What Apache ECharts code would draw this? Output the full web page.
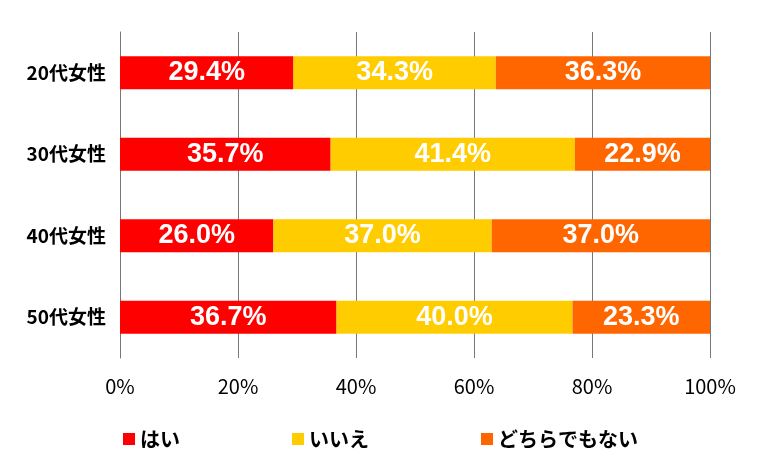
<!DOCTYPE html>
<html><head><meta charset="utf-8">
<script src="https://cdn.jsdelivr.net/npm/echarts@6/dist/echarts.min.js"></script>
<style>html,body{margin:0;background:#fff}#c{width:766px;height:468px}</style>
</head><body><div id="c"></div>
<script>
var categories = ['20代女性', '30代女性', '40代女性', '50代女性'];
var seriesNames = ['はい', 'いいえ', 'どちらでもない'];
var yesVals = [29.4, 35.7, 26.0, 36.7];
var noVals = [34.3, 41.4, 37.0, 40.0];
var neitherVals = [36.3, 22.9, 37.0, 23.3];
var colors = ['#ff0000', '#ffcc00', '#ff6600'];

var myChart = echarts.init(document.getElementById('c'));
var font = '"Noto Sans CJK JP", sans-serif';
function mk(name, data) {
    return {
        name: name, type: 'bar', stack: 'all', barWidth: 33,
        data: data,
        label: {
            show: true, position: 'inside', color: '#fff',
            fontFamily: '"Liberation Sans Narrow", "Liberation Sans", sans-serif',
            fontSize: 27, fontWeight: 'bold',
            formatter: function (p) { return p.value.toFixed(1) + '%'; }
        }
    };
}
var option = {
    color: colors,
    animation: false,
    grid: { left: 120, right: 56, top: 32, bottom: 110 },
    legend: {
        data: seriesNames, left: 118, top: 424, itemWidth: 12, itemHeight: 12,
        itemGap: 112, icon: 'rect',
        textStyle: { fontFamily: font, fontSize: 20, color: '#000', fontWeight: 'bold' }
    },
    xAxis: {
        type: 'value', min: 0, max: 100, interval: 20,
        axisLabel: { formatter: '{value}%', fontFamily: font, fontSize: 20, color: '#000', margin: 18 },
        axisLine: { show: false }, axisTick: { show: false },
        splitLine: { lineStyle: { color: '#777' } }
    },
    yAxis: {
        type: 'category', data: categories, inverse: true,
        axisLine: { lineStyle: { color: '#777' } },
        axisTick: { length: 6, lineStyle: { color: '#777' } },
        axisLabel: { fontFamily: font, fontSize: 19, color: '#000', fontWeight: 'bold', margin: 14 }
    },
    series: [mk(seriesNames[0], yesVals), mk(seriesNames[1], noVals), mk(seriesNames[2], neitherVals)]
};
myChart.setOption(option);
</script></body></html>
